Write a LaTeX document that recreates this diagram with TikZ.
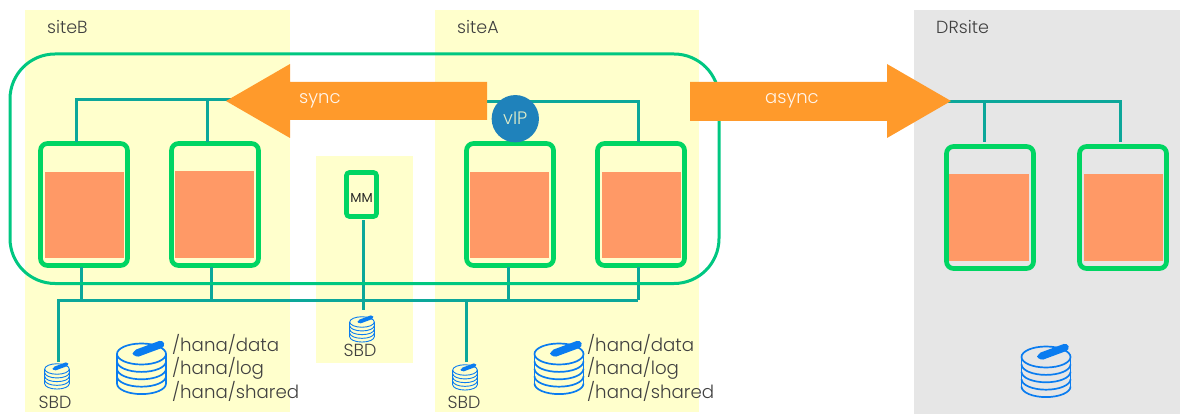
\documentclass[tikz,border=0pt]{standalone}
\usepackage{fontspec}
\setmainfont{Poppins Light}
\usepackage{tikz}
\usetikzlibrary{arrows.meta, positioning}

\definecolor{siteyellow}{HTML}{FFFFCC}
\definecolor{drgray}{HTML}{E6E6E6}
\definecolor{linkteal}{HTML}{0CA79A}
\definecolor{hostgreen}{HTML}{00D563}
\definecolor{clustergreen}{HTML}{00C781}
\definecolor{syncorange}{HTML}{FF9A2B}
\definecolor{hanaorange}{HTML}{FF9966}
\definecolor{diskblue}{HTML}{0A7CF0}
\definecolor{vipblue}{HTML}{1F82BB}
\definecolor{labelgray}{HTML}{404040}

\tikzset{
  site/.style={draw=none, fill=siteyellow},
  link/.style={draw=linkteal, line width=3pt},
  host/.style={draw=hostgreen, line width=4.7pt, rounded corners=7pt, fill=none, minimum width=87pt, minimum height=122pt},
  hana/.style={draw=none, fill=hanaorange},
  sitelabel/.style={text=labelgray, font=\fontsize{17.5}{20}\selectfont, anchor=west, inner sep=0pt},
  arrowlabel/.style={text=white!92!orange, font=\fontsize{18}{20}\selectfont, anchor=west, inner sep=0pt},
  syncarrow/.style={draw=none, fill=syncorange},
  pathlabel/.style={text=labelgray, font=\fontsize{18.2}{23.5}\selectfont, align=left, anchor=west, inner sep=0pt},
  sbdlabel/.style={text=labelgray, font=\fontsize{17.5}{20}\selectfont, inner sep=0pt},
  diskstack/.pic={
    \draw (0,0) ellipse [x radius=24.5, y radius=10.5];
    \foreach \s in {7.4,14.8,22.2,29.6} {
      \draw (-24.5,\s) arc [start angle=180, end angle=360, x radius=24.5, y radius=-10.5];
      \draw (-24.5,\s-7.4) -- (-24.5,\s);
      \draw (24.5,\s-7.4) -- (24.5,\s);
    }
    \draw[line width=2.1*\pgflinewidth, line cap=round] (-4,-1) -- (19,-9.5);
    \fill (-4,-0.5) ellipse [x radius=5, y radius=2.6];
  },
}

\begin{document}
\begin{tikzpicture}[x=1pt, y=-1pt, >=Latex]
    \useasboundingbox (0,0) rectangle (1180,414);

    % Site backgrounds
    \fill[site] (25,10) rectangle (290,412);
    \fill[site] (435,10) rectangle (699,412);
    \fill[site] (316,156) rectangle (413,363);
    \fill[drgray] (914,10) rectangle (1180,414);

    \node[sitelabel] (siteBlabel) at (47,27) {siteB};
    \node[sitelabel] (siteAlabel) at (457,27) {siteA};
    \node[sitelabel] (DRlabel) at (936,27) {DRsite};

    % Hosts
    \node[host] (hostB1) at (84,204.5) {};
    \node[host] (hostB2) at (215,204.5) {};
    \node[host] (hostA1) at (510,204.5) {};
    \node[host] (hostA2) at (641,204.5) {};
    \node[host] (hostD1) at (990,207.5) {};
    \node[host] (hostD2) at (1123,207.5) {};
    \node[host, rounded corners=3pt, minimum width=30pt, minimum height=44pt,
          font=\fontsize{13}{14}\selectfont\fontspec{Poppins}, text=black!85, inner sep=0pt] (majmaker) at (361.5,194.5) {\raisebox{-8pt}[0pt][0pt]{MM}};

    % HANA blocks
    \fill[hana] (45,172) rectangle (124,258);
    \fill[hana] (175,171) rectangle (254,258);
    \fill[hana] (470,172) rectangle (549,258);
    \fill[hana] (602,172) rectangle (681,258);
    \fill[hana] (949,174) rectangle (1029,261);
    \fill[hana] (1084,174) rectangle (1163,261);

    % Upper links
    \coordinate (topB) at (76,100);
    \coordinate (topBend) at (240,100);
    \coordinate (topA) at (480,102);
    \coordinate (topAend) at (638,102);
    \coordinate (topD) at (948,102);
    \coordinate (topDend) at (1120,102);
    \draw[link] (76,142) -- (topB) -- (topBend);
    \draw[link] (207,142) -- (207,100);
    \draw[link] (topA) -- (topAend) -- (638,142);
    \draw[link] (topD) -- (topDend) -- (1120,142);
    \draw[link] (984,102) -- (984,142);

    % Lower links
    \coordinate (busL) at (58,300.5);
    \coordinate (busR) at (638,300.5);
    \coordinate (sbdB) at (58,362);
    \coordinate (sbdA) at (466,362);
    \draw[link] (sbdB) -- (busL) -- (busR);
    \draw[link] (81,267) -- (81,300);
    \draw[link] (211,267) -- (211,300);
    \draw[link] (508,267) -- (508,300);
    \draw[link] (638,300) -- (638,267);
    \draw[link] (sbdA) -- (466,300);
    \coordinate (sbdM) at (363,310);
    \draw[link] (363,220) -- (sbdM);

    % Cluster outline
    \draw[draw=clustergreen, line width=3pt, rounded corners=45pt] (10,54) rectangle (719,283.5);

    % Replication arrows
    \fill[syncarrow] (487,82) -- (290,82) -- (290,64) -- (226,101) -- (290,138) -- (290,120) -- (487,120) -- cycle;
    \fill[syncarrow] (690,82) -- (887,82) -- (887,64) -- (951,101) -- (887,138) -- (887,121) -- (690,121) -- cycle;
    \node[arrowlabel] (synclabel) at (299,101) {sync};
    \node[arrowlabel] (asynclabel) at (765,101) {async};

    % Virtual IP
    \node[circle, fill=vipblue, minimum size=47.3pt, inner sep=0pt, text=siteyellow!85!vipblue,
          font=\fontsize{18}{20}\selectfont] (vip) at (515.3,118.7) {vIP};

    % Disks
    \pic[draw=diskblue, fill=diskblue, line width=1.7pt] at (141.5,354) {diskstack};
    \pic[draw=diskblue, fill=diskblue, line width=1.7pt] at (559,354) {diskstack};
    \pic[draw=diskblue, fill=diskblue, line width=1.7pt] at (1046,357) {diskstack};
    \pic[draw=diskblue, fill=diskblue, line width=.9pt, scale=.5] at (57,369) {diskstack};
    \pic[draw=diskblue, fill=diskblue, line width=.9pt, scale=.5] at (362,322) {diskstack};
    \pic[draw=diskblue, fill=diskblue, line width=.9pt, scale=.5] at (465,370) {diskstack};

    % Disk labels
    \node[sbdlabel] (sbdBlabel) at (55,402) {SBD};
    \node[sbdlabel] (sbdMlabel) at (360,350) {SBD};
    \node[sbdlabel] (sbdAlabel) at (464,402) {SBD};
    \node[pathlabel] (pathsB) at (172,367.5) {/hana/data\\/hana/log\\/hana/shared};
    \node[pathlabel] (pathsA) at (587,367.5) {/hana/data\\/hana/log\\/hana/shared};

\end{tikzpicture}
\end{document}
